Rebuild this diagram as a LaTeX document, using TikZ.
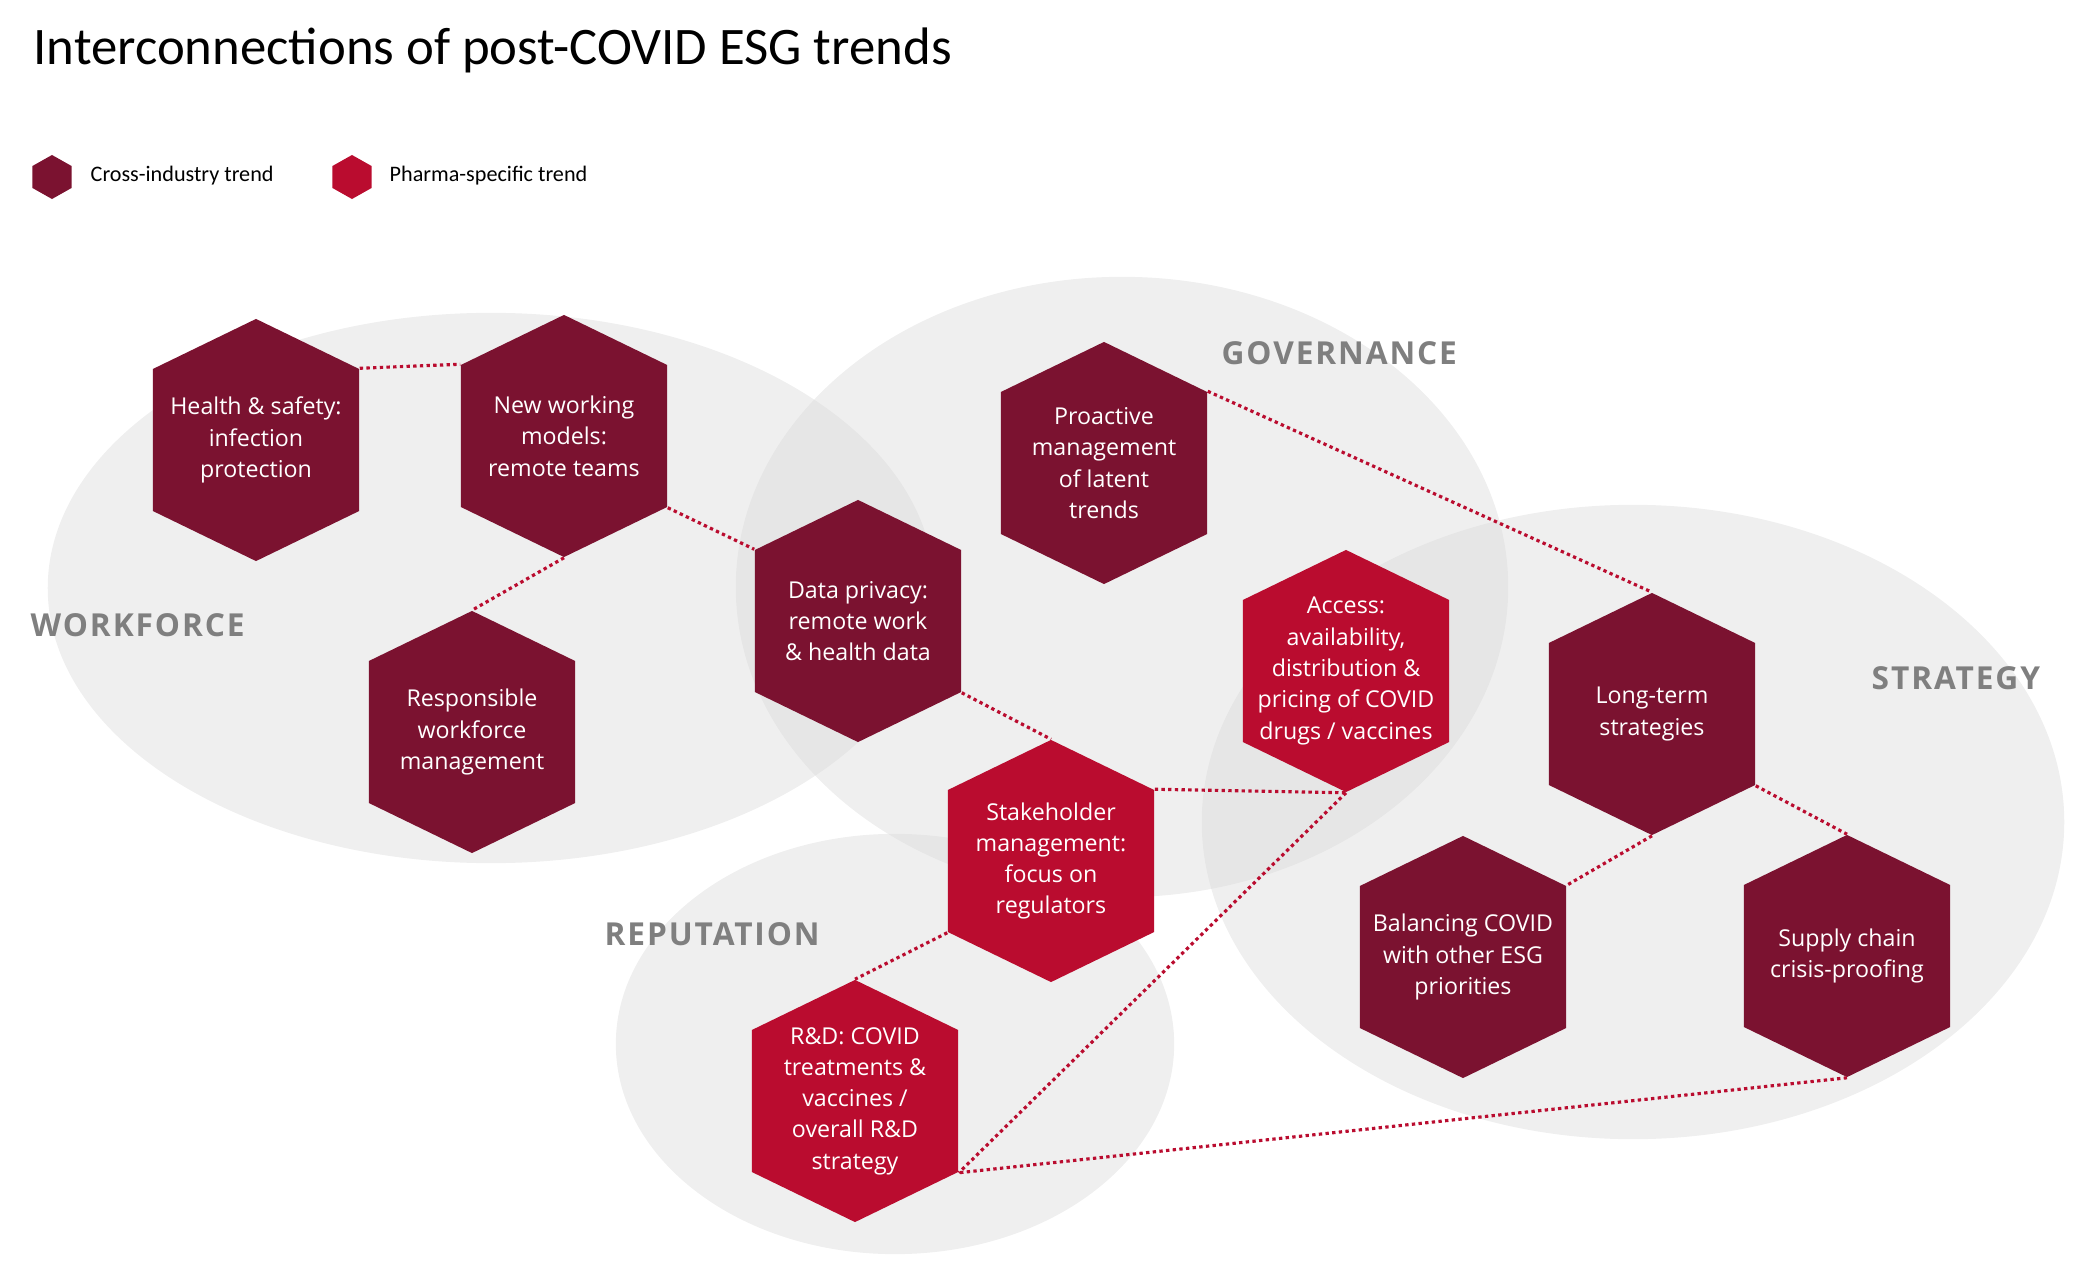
\documentclass[tikz,border=0pt]{standalone}
\usepackage{fontspec}
\setmainfont{Carlito}
\newfontfamily\hexfont{Open Sans}
\newfontfamily\areafont[LetterSpace=6]{Open Sans}
\usepackage{xcolor}
\usepackage{tikz}

\definecolor{crossRed}{RGB}{123,18,48}
\definecolor{pharmaRed}{RGB}{186,12,47}
\definecolor{areaGray}{RGB}{218,218,218}
\definecolor{areaText}{RGB}{127,127,127}

\begin{document}
\begin{tikzpicture}[x=0.01cm, y=-0.01cm,
  hexrise/.store in=\hexrise, hexrise=5mm,
  hex/.style={minimum width=2.06cm, minimum height=2.42cm, inner sep=0pt, align=center, text=white, node font=\hexfont\fontsize{6.6}{8.9}\selectfont,
    path picture={\fill[#1] (path picture bounding box.north) -- ([yshift=-\hexrise]path picture bounding box.north east) -- ([yshift=\hexrise]path picture bounding box.south east) -- (path picture bounding box.south) -- ([yshift=\hexrise]path picture bounding box.south west) -- ([yshift=-\hexrise]path picture bounding box.north west) -- cycle;}},
  hexmark/.style={hex=#1, minimum width=0.39cm, minimum height=0.44cm, hexrise=1.1mm},
  area/.style={fill=areaGray, fill opacity=0.44},
  areaLabel/.style={anchor=west, inner sep=0pt, text=areaText, node font=\areafont\bfseries\fontsize{9}{10}\selectfont},
  legend/.style={anchor=west, inner sep=0pt, node font=\fontsize{6.3}{7.5}\selectfont},
  line/.style={draw=pharmaRed, line width=0.9pt, dash pattern=on 0.95pt off 0.95pt}]

  \useasboundingbox (0,0) rectangle (2081,1279);

  \node[anchor=base west, inner sep=0pt, node font=\fontsize{15}{18}\selectfont] (title) at (33,65) {Interconnections of post-COVID ESG trends};

  % legend
  \node[hexmark=crossRed]  (keyCross)      at (52,177)  {};
  \node[legend]            (keyCrossText)  at (90,176)  {Cross-industry trend};
  \node[hexmark=pharmaRed] (keyPharma)     at (352,177) {};
  \node[legend]            (keyPharmaText) at (389,176) {Pharma-specific trend};

  % areas
  \fill[area] (491,588)  ellipse [x radius=4.43cm, y radius=2.75cm];
  \fill[area] (1122,587) ellipse [x radius=3.86cm, y radius=3.10cm];
  \fill[area] (1633,822) ellipse [x radius=4.31cm, y radius=3.17cm];
  \fill[area] (895,1044) ellipse [x radius=2.79cm, y radius=2.10cm];

  \node[areaLabel] (labelWorkforce)  at (30,625)   {WORKFORCE};
  \node[areaLabel] (labelGovernance) at (1221,353) {GOVERNANCE};
  \node[areaLabel] (labelStrategy)   at (1871,678) {STRATEGY};
  \node[areaLabel] (labelReputation) at (604,934)  {REPUTATION};

  % trends
  \node[hex=crossRed]  (hexHealth)      at (256,440)  {Health \& safety:\\infection\\protection};
  \node[hex=crossRed]  (hexNewWork)     at (564,436)  {New working\\models:\\remote teams};
  \node[hex=crossRed]  (hexRespWork)    at (472,732)  {Responsible\\workforce\\management};
  \node[hex=crossRed]  (hexDataPrivacy) at (858,621)  {Data privacy:\\remote work\\\& health data};
  \node[hex=crossRed]  (hexProactive)   at (1104,463) {Proactive\\management\\of latent\\trends};
  \node[hex=pharmaRed] (hexAccess)      at (1346,671) {Access:\\availability,\\distribution \&\\pricing of COVID\\drugs / vaccines};
  \node[hex=pharmaRed] (hexStakeholder) at (1051,861) {Stakeholder\\management:\\focus on\\regulators};
  \node[hex=pharmaRed] (hexRnD)         at (855,1101) {R\&D: COVID\\treatments \&\\vaccines /\\overall R\&D\\strategy};
  \node[hex=crossRed]  (hexLongTerm)    at (1652,714) {Long-term\\strategies};
  \node[hex=crossRed]  (hexBalancing)   at (1463,957) {Balancing COVID\\with other ESG\\priorities};
  \node[hex=crossRed]  (hexSupplyChain) at (1847,956) {Supply chain\\crisis-proofing};

  % links
  \draw[line] ([yshift=-5mm]hexHealth.north east)      -- ([yshift=-5mm]hexNewWork.north west);
  \draw[line] (hexNewWork.south)                       -- (hexRespWork.north);
  \draw[line] ([yshift=5mm]hexNewWork.south east)      -- ([yshift=-5mm]hexDataPrivacy.north west);
  \draw[line] ([yshift=5mm]hexDataPrivacy.south east)  -- (hexStakeholder.north);
  \draw[line] ([yshift=-5mm]hexProactive.north east)   -- (hexLongTerm.north);
  \draw[line] ([yshift=-5mm]hexStakeholder.north east) -- (hexAccess.south);
  \draw[line] ([yshift=5mm]hexStakeholder.south west)  -- (hexRnD.north);
  \draw[line] (hexAccess.south)                        -- ([yshift=5mm]hexRnD.south east);
  \draw[line] (hexLongTerm.south)                      -- ([yshift=-5mm]hexBalancing.north east);
  \draw[line] ([yshift=5mm]hexLongTerm.south east)     -- (hexSupplyChain.north);
  \draw[line] (hexSupplyChain.south)                   -- ([yshift=5mm]hexRnD.south east);
\end{tikzpicture}
\end{document}
